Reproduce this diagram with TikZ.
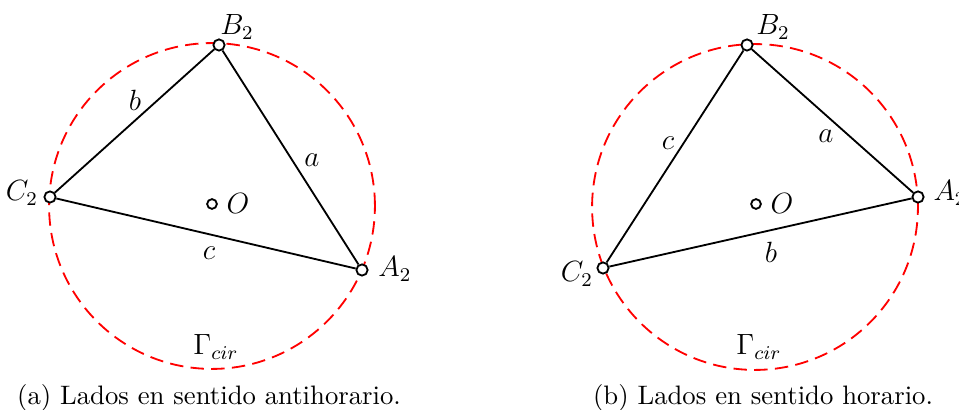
\documentclass[tikz,border=0pt]{standalone}
\begin{document}
\begin{tikzpicture}[x=0.41pt,y=-0.41pt,
  vtx/.style={circle,draw=black,fill=white,inner sep=0pt,minimum size=4.6pt,line width=0.75pt},
  side/.style={black,line width=0.75pt},
  circ/.style={red,line width=0.75pt,dash pattern=on 5.5pt off 3pt},
  lbl/.style={inner sep=0pt,font=\fontsize{12}{14}\selectfont},
  capt/.style={inner sep=0pt,font=\fontsize{10.95}{13}\selectfont}]
\useasboundingbox (0,0) rectangle (959,410);
% ---------- left ----------
\draw[circ] (212,206) circle[radius=66.8pt];
\node[vtx] (B1) at (219,45) {};
\node[vtx] (C1) at (50,197) {};
\node[vtx] (A1) at (362,270) {};
\node[vtx,minimum size=4pt] (O1) at (212,204) {};
\draw[side] (B1) -- (C1);
\draw[side] (B1) -- (A1);
\draw[side] (C1) -- (A1);
\node[lbl] (lB1) at (237,27) {$B_2$};
\node[lbl] (lC1) at (22,193) {$C_2$};
\node[lbl] (lA1) at (395,269) {$A_2$};
\node[lbl] (lO1) at (238,204) {$O$};
\node[lbl] (sb1) at (135,100) {$b$};
\node[lbl] (sa1) at (312,160) {$a$};
\node[lbl] (sc1) at (209,253) {$c$};
\node[lbl] (G1) at (216,347) {$\Gamma_{cir}$};
\node[capt] (cap1) at (209,398) {(a) Lados en sentido antihorario.};
% ---------- right ----------
\draw[circ] (755,207) circle[radius=66.8pt];
\node[vtx] (B2) at (747,45) {};
\node[vtx] (A2) at (918,197) {};
\node[vtx] (C2) at (603,268) {};
\node[vtx,minimum size=4pt] (O2) at (756,204) {};
\draw[side] (C2) -- (B2);
\draw[side] (B2) -- (A2);
\draw[side] (C2) -- (A2);
\node[lbl] (lB2) at (773,27) {$B_2$};
\node[lbl,anchor=west] (lA2) at (933,193) {$A_2$};
\node[lbl] (lC2) at (577,274) {$C_2$};
\node[lbl] (lO2) at (782,204) {$O$};
\node[lbl] (sc2) at (668,143) {$c$};
\node[lbl] (sa2) at (826,136) {$a$};
\node[lbl] (sb2) at (771,252) {$b$};
\node[lbl] (G2) at (759,347) {$\Gamma_{cir}$};
\node[capt] (cap2) at (763,398) {(b) Lados en sentido horario.};
\end{tikzpicture}
\end{document}
